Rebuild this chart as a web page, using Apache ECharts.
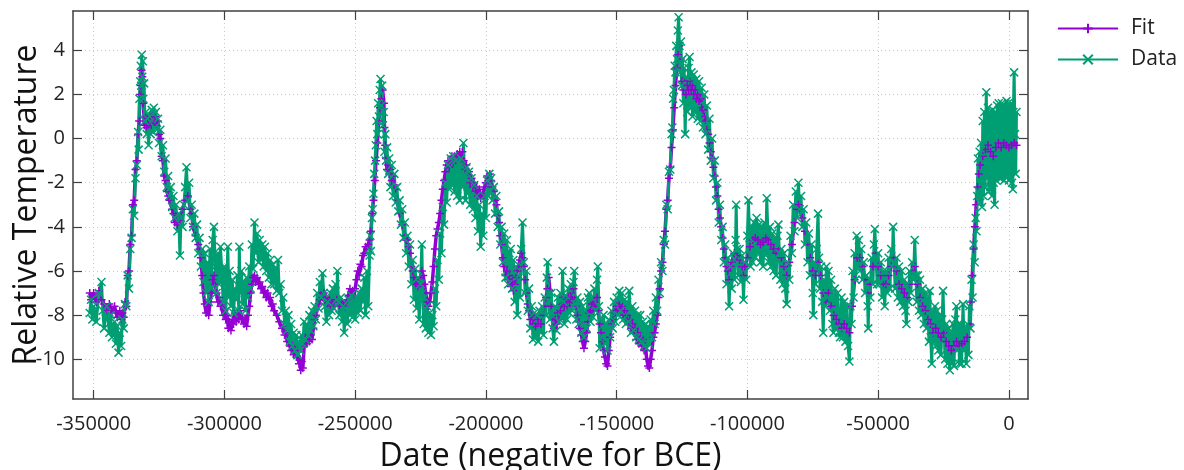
<!DOCTYPE html>
<html>
<head>
<meta charset="utf-8">
<title>Relative Temperature</title>
<script src="https://cdn.jsdelivr.net/npm/echarts@6/dist/echarts.min.js"></script>
<style>
  html, body { margin: 0; padding: 0; background: #fff; }
  #main { width: 1184px; height: 470px; }
</style>
</head>
<body>
<div id="main"></div>
<script>
// tick labels
var xTicks = [-350000, -300000, -250000, -200000, -150000, -100000, -50000, 0];
var yTicks = [-10, -8, -6, -4, -2, 0, 2, 4];
var seriesNames = ['Fit', 'Data'];

// [year, temperature]
var fitPoints = [
  [-351500,-7.0],[-351000,-7.3],[-350000,-7.0],[-349000,-7.4],[-348000,-6.9],[-347000,-7.3],[-346000,-7.5],[-345000,-7.8],
  [-344000,-7.5],[-343000,-7.9],[-342000,-7.6],[-341000,-8.1],[-340000,-7.8],[-339500,-8.2],[-339000,-7.9],[-338500,-8.1],
  [-338000,-7.4],[-337500,-7.6],[-337000,-6.2],[-336500,-6.0],[-336000,-4.8],[-335500,-4.4],[-335000,-3.0],[-334500,-2.8],
  [-334000,-1.4],[-333500,-1.0],[-333000,0.2],[-332600,0.8],[-332300,2.0],[-332000,2.4],[-331700,3.1],[-331400,2.8],
  [-331000,1.6],[-330600,0.6],[-330200,1.0],[-329800,0.5],[-329400,0.9],[-329000,0.6],[-328500,1.0],[-328000,0.6],
  [-327500,1.0],[-327000,0.7],[-326500,1.0],[-326000,0.6],[-325500,0.8],[-325000,0.2],[-324500,0.0],[-324000,-0.8],
  [-323500,-1.0],[-323000,-1.7],[-322500,-1.9],[-322000,-2.4],[-321500,-2.6],[-321000,-2.8],[-320000,-3.2],[-319500,-3.4],
  [-319000,-3.8],[-318500,-3.5],[-318000,-3.9],[-317000,-3.7],[-316000,-3.2],[-315000,-2.8],[-314000,-2.6],[-313000,-3.2],
  [-312500,-3.4],[-312000,-4.0],[-311000,-4.4],[-310000,-4.8],[-309500,-5.0],[-309000,-5.4],[-308500,-6.2],[-308000,-7.0],
  [-307500,-7.5],[-307000,-7.9],[-306500,-7.6],[-306000,-8.0],[-305500,-7.4],[-305000,-7.0],[-304500,-6.4],[-304000,-6.2],
  [-303500,-6.6],[-303000,-7.0],[-302500,-7.4],[-302000,-7.2],[-301500,-7.6],[-301000,-7.5],[-300500,-8.0],[-300000,-7.8],
  [-299500,-8.2],[-299000,-8.0],[-298500,-8.6],[-298000,-8.3],[-297500,-8.7],[-297000,-8.2],[-296500,-8.4],[-296000,-7.9],
  [-295500,-8.3],[-295000,-7.9],[-294500,-8.2],[-294000,-7.8],[-293500,-8.2],[-293000,-8.1],[-292500,-8.4],[-292000,-8.2],
  [-291500,-8.5],[-291000,-8.0],[-290500,-7.6],[-290000,-7.0],[-289500,-6.6],[-289000,-6.3],[-288500,-6.2],[-288000,-6.5],
  [-287500,-6.3],[-287000,-6.6],[-286500,-6.5],[-286000,-6.8],[-285500,-6.7],[-285000,-7.0],[-284500,-6.9],[-284000,-7.2],
  [-283500,-7.0],[-283000,-7.3],[-282500,-7.2],[-282000,-7.6],[-281500,-7.5],[-281000,-7.8],[-280000,-8.0],[-279000,-8.3],
  [-278000,-8.6],[-277500,-8.5],[-277000,-8.9],[-276500,-8.8],[-276000,-9.2],[-275000,-9.4],[-274500,-9.6],[-274000,-9.4],
  [-273500,-9.8],[-273000,-9.5],[-272500,-9.9],[-272000,-9.6],[-271500,-10.2],[-271000,-10.0],[-270800,-10.5],[-270400,-10.1],
  [-270000,-10.4],[-269500,-9.4],[-269000,-9.0],[-268500,-9.3],[-268000,-9.0],[-267500,-9.2],[-267000,-8.9],[-266500,-9.1],
  [-266000,-8.6],[-265500,-8.2],[-265000,-8.0],[-264000,-7.5],[-263500,-7.3],[-263000,-7.0],[-262500,-7.2],[-262000,-7.0],
  [-261500,-7.3],[-261000,-7.2],[-260500,-7.5],[-260000,-7.3],[-259500,-7.6],[-259000,-7.4],[-258000,-7.6],[-257000,-7.3],
  [-256000,-7.6],[-255000,-7.4],[-254000,-7.6],[-253000,-7.3],[-252500,-7.1],[-252000,-6.8],[-251500,-7.0],[-251000,-6.9],
  [-250500,-7.2],[-250000,-6.8],[-249500,-6.4],[-249000,-6.0],[-248500,-6.2],[-248000,-5.7],[-247500,-5.8],[-247000,-5.3],
  [-246500,-5.2],[-246000,-4.9],[-245500,-5.0],[-245000,-4.8],[-244500,-4.6],[-244000,-4.2],[-243500,-3.4],[-243000,-2.8],
  [-242500,-1.9],[-242000,-1.0],[-241500,-0.2],[-241000,0.8],[-240500,1.4],[-240000,1.8],[-239500,2.2],[-239000,1.6],
  [-238800,0.5],[-238500,-0.3],[-238200,-0.9],[-237800,-1.4],[-237400,-1.2],[-237000,-1.6],[-236500,-1.4],[-236000,-1.9],
  [-235500,-1.7],[-235000,-2.1],[-234500,-2.3],[-234000,-2.8],[-233000,-3.4],[-232000,-3.9],[-231000,-4.4],[-230500,-4.6],
  [-230000,-4.6],[-229500,-4.9],[-229000,-5.2],[-228500,-5.8],[-228000,-6.0],[-227500,-6.3],[-227000,-6.6],[-226500,-6.4],
  [-226000,-6.7],[-225000,-6.3],[-224500,-6.0],[-224000,-6.2],[-223500,-6.6],[-223000,-7.0],[-222500,-7.4],[-222000,-7.6],
  [-221500,-7.4],[-221000,-7.0],[-220500,-6.5],[-220000,-5.8],[-219500,-5.0],[-219000,-4.4],[-218500,-4.1],[-218000,-3.8],
  [-217500,-3.4],[-217000,-2.8],[-216500,-2.3],[-216000,-1.9],[-215500,-1.5],[-215000,-1.2],[-214500,-1.0],[-214000,-1.3],
  [-213500,-1.0],[-213000,-0.8],[-212500,-1.1],[-212000,-0.8],[-211500,-1.0],[-211000,-0.7],[-210500,-0.9],[-210000,-0.6],
  [-209500,-0.9],[-209000,-0.6],[-208500,-1.0],[-208000,-1.4],[-207500,-1.2],[-207000,-1.6],[-206500,-1.5],[-206000,-2.0],
  [-205500,-1.8],[-205000,-2.2],[-204500,-2.0],[-204000,-2.4],[-203500,-2.2],[-203000,-2.6],[-202500,-2.3],[-202000,-2.7],
  [-201500,-2.6],[-201000,-2.5],[-200500,-2.2],[-200000,-2.0],[-199500,-1.7],[-199000,-1.9],[-198500,-1.6],[-198000,-1.9],
  [-197500,-2.2],[-197000,-2.4],[-196500,-2.8],[-196000,-3.0],[-195500,-3.5],[-195000,-3.8],[-194500,-4.4],[-194000,-4.8],
  [-193500,-5.4],[-193000,-5.8],[-192500,-6.2],[-192000,-6.0],[-191500,-6.4],[-191000,-6.2],[-190500,-6.7],[-190000,-6.5],
  [-189500,-6.9],[-189000,-6.6],[-188500,-6.3],[-188000,-6.0],[-187500,-5.8],[-187000,-5.5],[-186500,-5.2],[-186000,-5.4],
  [-185500,-5.8],[-185000,-6.4],[-184500,-7.0],[-184000,-7.5],[-183500,-7.8],[-183000,-8.2],[-182500,-8.0],[-182000,-8.4],
  [-181500,-8.1],[-181000,-8.5],[-180000,-8.2],[-179000,-8.4],[-178000,-8.0],[-177500,-7.6],[-177000,-7.2],[-176500,-6.8],
  [-176000,-6.3],[-175500,-6.9],[-175000,-7.6],[-174500,-8.2],[-174000,-8.6],[-173500,-8.2],[-173000,-8.4],[-172500,-7.9],
  [-172000,-8.2],[-171500,-7.8],[-171000,-7.5],[-170500,-7.2],[-170000,-7.6],[-169500,-7.3],[-169000,-7.6],[-168500,-7.2],
  [-168000,-7.4],[-167500,-7.0],[-167000,-7.3],[-166500,-6.8],[-166000,-7.2],[-165500,-7.6],[-165000,-8.0],[-164500,-8.3],
  [-164000,-8.6],[-163500,-8.9],[-163000,-9.2],[-162500,-9.5],[-162000,-9.2],[-161500,-8.8],[-161000,-8.3],[-160500,-7.9],
  [-160000,-7.8],[-159500,-7.5],[-159000,-7.8],[-158500,-7.4],[-158000,-7.6],[-157500,-7.2],[-157000,-7.8],[-156500,-8.4],
  [-156000,-8.8],[-155500,-9.2],[-155000,-9.6],[-154500,-9.9],[-154000,-10.2],[-153500,-10.3],[-153000,-9.6],[-152500,-9.0],
  [-152000,-8.4],[-151500,-8.2],[-151000,-7.8],[-150500,-7.9],[-150000,-7.6],[-149500,-7.7],[-149000,-7.5],[-148500,-7.8],
  [-148000,-7.6],[-147500,-8.0],[-147000,-7.8],[-146500,-8.2],[-146000,-8.0],[-145500,-8.4],[-145000,-8.2],[-144500,-8.6],
  [-144000,-8.4],[-143500,-8.8],[-143000,-8.6],[-142500,-9.1],[-142000,-8.8],[-141500,-9.3],[-141000,-9.0],[-140500,-9.4],
  [-140000,-9.1],[-139500,-9.6],[-139000,-9.4],[-138500,-10.0],[-138000,-10.3],[-137500,-10.4],[-137000,-10.0],[-136500,-9.6],
  [-136000,-9.0],[-135500,-8.8],[-135000,-8.4],[-134500,-8.0],[-134000,-7.2],[-133500,-6.8],[-133000,-6.0],[-132500,-5.6],
  [-132000,-4.8],[-131500,-4.2],[-131000,-3.2],[-130500,-2.8],[-130000,-1.8],[-129500,-1.3],[-129000,-0.4],[-128500,0.4],
  [-128000,1.4],[-127500,2.4],[-127000,3.2],[-126500,3.8],[-126000,4.2],[-125500,3.6],[-125000,2.6],[-124500,2.2],
  [-124000,2.6],[-123500,2.0],[-123000,2.4],[-122500,2.2],[-122000,2.6],[-121500,2.2],[-121000,2.4],[-120500,2.0],
  [-120000,2.2],[-119500,1.8],[-119000,2.0],[-118500,1.7],[-118000,1.8],[-117500,1.4],[-117000,1.3],[-116500,1.0],
  [-116000,0.8],[-115500,0.4],[-115000,0.2],[-114500,-0.2],[-114000,-0.6],[-113500,-0.9],[-113000,-1.3],[-112500,-1.7],
  [-112000,-2.2],[-111500,-2.6],[-111000,-3.2],[-110500,-3.6],[-110000,-4.0],[-109500,-4.5],[-109000,-5.0],[-108500,-5.4],
  [-108000,-5.8],[-107500,-6.0],[-107000,-6.4],[-106500,-5.8],[-106000,-5.6],[-105000,-5.2],[-104000,-5.3],[-103000,-5.5],
  [-102000,-5.8],[-101500,-6.2],[-101000,-5.8],[-100000,-5.4],[-99000,-4.9],[-98000,-4.6],[-97000,-4.5],[-96000,-4.6],
  [-95000,-4.8],[-94000,-4.7],[-93000,-4.5],[-92000,-4.6],[-91000,-4.8],[-90000,-5.0],[-89000,-5.2],[-88000,-5.0],
  [-87000,-5.4],[-86000,-5.8],[-85000,-6.2],[-84000,-5.6],[-83000,-4.8],[-82000,-3.8],[-81000,-3.2],[-80500,-3.0],
  [-80000,-3.2],[-79000,-3.6],[-78000,-4.2],[-77000,-4.8],[-76000,-5.4],[-75000,-6.0],[-74000,-6.2],[-73000,-5.6],
  [-72000,-6.2],[-71000,-7.0],[-70000,-7.4],[-69000,-7.0],[-68000,-7.6],[-67000,-8.0],[-66000,-8.2],[-65000,-8.4],
  [-64000,-8.6],[-63000,-8.4],[-62000,-8.6],[-61000,-8.8],[-60000,-7.6],[-59000,-6.4],[-58000,-5.4],[-57000,-5.4],
  [-56000,-5.8],[-55000,-6.4],[-54000,-7.0],[-53000,-6.6],[-52000,-5.8],[-51000,-5.2],[-50000,-5.8],[-49000,-6.2],
  [-48000,-6.6],[-47000,-6.6],[-46000,-6.2],[-45000,-5.8],[-44000,-5.4],[-43000,-6.0],[-42000,-6.6],[-41000,-6.8],
  [-40000,-7.0],[-39000,-7.2],[-38000,-6.6],[-37000,-6.0],[-36000,-5.8],[-35000,-6.6],[-34000,-7.2],[-33000,-7.6],
  [-32000,-7.8],[-31000,-8.2],[-30000,-8.4],[-29000,-8.8],[-28000,-8.6],[-27000,-8.8],[-26000,-9.0],[-25000,-8.8],
  [-24000,-9.2],[-23000,-9.4],[-22000,-9.6],[-21000,-9.4],[-20000,-9.2],[-19000,-9.4],[-18000,-9.3],[-17000,-9.2],
  [-16000,-9.0],[-15000,-8.4],[-14500,-7.4],[-14000,-6.2],[-13500,-5.0],[-13000,-4.0],[-12500,-3.0],[-12000,-2.2],
  [-11500,-1.6],[-11000,-1.2],[-10000,-0.8],[-9000,-0.5],[-8000,-0.3],[-7000,-0.6],[-6000,-0.8],[-5000,-0.4],
  [-4000,-0.2],[-3000,-0.4],[-2000,-0.2],[-1000,-0.3],[0,-0.4],[1000,-0.3],[2000,-0.2],[2900,-0.3]
];

var dataPoints = [
  [-351500,-7.9],[-351000,-7.3],[-350500,-8.2],[-350000,-7.6],[-349000,-8.3],[-348000,-7.0],[-347000,-6.5],[-346500,-7.8],
  [-346000,-8.6],[-345000,-7.6],[-344000,-8.8],[-343500,-8.0],[-343000,-9.0],[-342000,-8.3],[-341500,-9.3],[-341000,-8.5],
  [-340500,-9.7],[-340000,-8.8],[-339500,-9.4],[-339000,-8.2],[-338500,-8.6],[-338000,-7.5],[-337500,-7.6],[-337000,-6.2],
  [-336500,-6.8],[-336000,-5.0],[-335500,-4.5],[-335000,-3.2],[-334500,-3.5],[-334000,-1.8],[-333500,-1.2],[-333000,0.3],
  [-332800,-0.5],[-332500,1.8],[-332200,2.6],[-332000,3.3],[-331800,2.4],[-331600,3.8],[-331400,2.8],[-331200,3.5],
  [-331000,1.8],[-330700,2.5],[-330400,0.8],[-330000,1.2],[-329700,0.2],[-329400,0.9],[-329000,-0.3],[-328600,1.0],
  [-328200,0.2],[-327800,1.3],[-327400,0.3],[-327000,1.4],[-326600,0.5],[-326200,1.2],[-325800,0.4],[-325400,0.9],
  [-325000,-0.2],[-324500,0.4],[-324000,-0.8],[-323500,-0.3],[-323000,-1.5],[-322500,-0.9],[-322000,-2.2],[-321500,-1.7],
  [-321000,-2.6],[-320500,-2.2],[-320000,-3.1],[-319500,-2.6],[-319000,-3.6],[-318500,-3.0],[-318000,-4.2],[-317500,-3.4],
  [-317000,-5.3],[-316600,-3.6],[-316000,-4.0],[-315500,-3.0],[-315000,-2.2],[-314500,-1.3],[-314000,-2.8],[-313500,-2.0],
  [-313000,-3.6],[-312500,-3.0],[-312000,-4.0],[-311500,-3.4],[-311000,-4.5],[-310500,-3.9],[-310000,-5.2],[-309500,-4.5],
  [-309000,-5.8],[-308500,-5.0],[-308000,-6.5],[-307500,-5.2],[-307000,-7.0],[-306500,-5.6],[-306000,-7.4],[-305500,-5.0],
  [-305000,-6.8],[-304500,-4.6],[-304000,-4.0],[-303500,-5.8],[-303000,-7.0],[-302500,-5.2],[-302000,-6.6],[-301500,-4.9],
  [-301000,-6.0],[-300500,-7.4],[-300000,-5.8],[-299500,-7.8],[-299000,-6.2],[-298700,-4.9],[-298300,-7.2],[-298000,-6.0],
  [-297500,-7.6],[-297000,-6.4],[-296500,-7.9],[-296000,-6.8],[-295500,-7.3],[-295000,-6.2],[-294500,-7.8],[-294300,-4.9],
  [-294000,-7.0],[-293500,-6.0],[-293000,-7.5],[-292500,-6.5],[-292000,-7.8],[-291500,-6.3],[-291000,-7.2],[-290500,-5.8],
  [-290000,-6.8],[-289500,-4.8],[-289000,-5.9],[-288500,-3.8],[-288000,-5.2],[-287500,-4.3],[-287000,-5.6],[-286500,-4.6],
  [-286000,-5.5],[-285500,-4.8],[-285000,-5.8],[-284500,-4.9],[-284000,-6.0],[-283500,-5.2],[-283000,-6.3],[-282500,-5.5],
  [-282000,-6.6],[-281500,-5.7],[-281000,-6.6],[-280500,-5.9],[-280000,-6.9],[-279500,-5.5],[-279000,-7.0],[-278500,-6.6],
  [-278000,-7.8],[-277500,-7.2],[-277000,-8.4],[-276500,-7.8],[-276000,-8.7],[-275500,-8.0],[-275000,-9.2],[-274500,-8.4],
  [-274000,-9.4],[-273500,-8.8],[-273000,-9.6],[-272500,-8.9],[-272000,-9.8],[-271500,-9.2],[-271000,-9.6],[-270500,-8.9],
  [-270000,-9.3],[-269500,-8.3],[-269000,-9.1],[-268500,-8.4],[-268000,-8.9],[-267500,-8.0],[-267000,-8.7],[-266500,-7.8],
  [-266000,-8.5],[-265500,-7.6],[-265000,-8.2],[-264500,-7.0],[-264000,-7.7],[-263500,-6.5],[-263000,-7.2],[-262500,-6.1],
  [-262000,-7.0],[-261500,-7.6],[-261000,-8.3],[-260500,-7.4],[-260000,-8.0],[-259500,-7.0],[-259000,-7.8],[-258500,-6.8],
  [-258000,-7.7],[-257500,-6.6],[-257000,-7.3],[-256800,-6.0],[-256400,-7.4],[-256000,-8.0],[-255500,-7.2],[-255000,-8.3],
  [-254500,-7.6],[-254200,-8.8],[-253800,-7.7],[-253000,-8.4],[-252500,-7.3],[-252000,-8.0],[-251500,-7.1],[-251000,-8.1],
  [-250500,-7.4],[-250000,-8.2],[-249500,-7.2],[-249000,-7.9],[-248500,-7.0],[-248000,-7.8],[-247500,-6.8],[-247000,-7.4],
  [-246500,-6.3],[-246000,-8.0],[-245500,-6.0],[-245000,-7.6],[-244500,-5.3],[-244200,-4.4],[-244000,-5.1],[-243600,-3.6],
  [-243300,-3.2],[-243000,-2.5],[-242700,-1.6],[-242400,-1.0],[-242100,-0.3],[-241800,0.8],[-241500,0.2],[-241200,1.6],
  [-240900,1.0],[-240600,2.2],[-240300,2.7],[-240000,1.5],[-239700,2.4],[-239400,0.6],[-239100,1.2],[-238800,-0.6],
  [-238500,0.2],[-238200,-1.0],[-237800,-0.4],[-237400,-1.6],[-237000,-0.9],[-236500,-2.2],[-236000,-1.2],[-235500,-2.6],
  [-235000,-1.6],[-234500,-2.9],[-234000,-2.2],[-233500,-3.3],[-233000,-2.8],[-232500,-3.9],[-232000,-3.2],[-231500,-4.5],
  [-231000,-3.8],[-230500,-5.2],[-230000,-4.4],[-229500,-5.8],[-229000,-4.8],[-228500,-6.6],[-228000,-5.5],[-227500,-7.3],
  [-227000,-5.9],[-226500,-7.7],[-226000,-6.3],[-225500,-8.2],[-225000,-6.6],[-224500,-4.8],[-224200,-7.0],[-223800,-8.4],
  [-223500,-7.2],[-223000,-8.6],[-222500,-7.6],[-222000,-8.8],[-221500,-7.9],[-221000,-8.9],[-220500,-8.0],[-220000,-8.5],
  [-219500,-6.8],[-219000,-7.6],[-218500,-5.5],[-218000,-6.4],[-217500,-4.3],[-217000,-5.2],[-216500,-3.1],[-216000,-3.9],
  [-215500,-2.0],[-215000,-2.9],[-214500,-1.2],[-214000,-2.3],[-213500,-0.9],[-213000,-2.1],[-212500,-0.8],[-212000,-2.4],
  [-211500,-1.0],[-211000,-2.6],[-210500,-1.1],[-210000,-2.8],[-209500,-0.9],[-209000,-2.2],[-208600,-0.2],[-208200,-1.6],
  [-207800,-2.8],[-207400,-1.3],[-207000,-2.5],[-206500,-1.5],[-206000,-3.0],[-205500,-1.8],[-205000,-3.2],[-204500,-2.1],
  [-204000,-3.6],[-203500,-2.6],[-203000,-4.2],[-202500,-3.0],[-202000,-4.9],[-201500,-3.4],[-201000,-4.4],[-200500,-2.6],
  [-200000,-3.6],[-199500,-1.9],[-199000,-2.6],[-198700,-1.6],[-198300,-2.4],[-198000,-1.8],[-197500,-2.8],[-197000,-2.2],
  [-196500,-3.4],[-196000,-2.6],[-195500,-4.0],[-195000,-3.3],[-194500,-4.8],[-194000,-4.0],[-193500,-5.6],[-193000,-4.3],
  [-192500,-6.3],[-192000,-4.6],[-191500,-6.6],[-191000,-5.2],[-190500,-5.0],[-190000,-6.8],[-189500,-5.5],[-189000,-7.4],
  [-188500,-5.8],[-188000,-8.0],[-187500,-6.2],[-187000,-7.2],[-186500,-5.0],[-186000,-3.8],[-185500,-5.6],[-185000,-7.0],
  [-184500,-6.0],[-184000,-7.8],[-183500,-6.8],[-183000,-8.6],[-182500,-7.6],[-182000,-9.1],[-181500,-7.9],[-181000,-9.0],
  [-180500,-8.0],[-180000,-9.2],[-179500,-7.8],[-179000,-8.8],[-178500,-7.6],[-178000,-8.9],[-177500,-7.2],[-177000,-8.0],
  [-176700,-6.3],[-176400,-5.6],[-176000,-7.0],[-175500,-8.2],[-175000,-7.0],[-174500,-8.6],[-174000,-9.2],[-173500,-7.6],
  [-173000,-8.7],[-172500,-7.2],[-172000,-8.3],[-171500,-7.0],[-171000,-8.1],[-170700,-6.0],[-170300,-7.4],[-170000,-8.4],
  [-169500,-7.1],[-169000,-8.2],[-168500,-6.8],[-168000,-7.9],[-167500,-6.6],[-167000,-7.8],[-166500,-6.5],[-166200,-6.0],
  [-165800,-7.5],[-165400,-8.2],[-165000,-7.2],[-164500,-8.4],[-164000,-7.4],[-163500,-8.8],[-163000,-7.6],[-162500,-9.0],
  [-162000,-7.8],[-161500,-8.6],[-161000,-7.2],[-160500,-7.0],[-160000,-8.3],[-159500,-7.2],[-159000,-8.1],[-158500,-6.8],
  [-158000,-7.8],[-157500,-6.4],[-157200,-5.8],[-156800,-7.6],[-156500,-9.5],[-156000,-8.2],[-155500,-9.0],[-155000,-8.0],
  [-154500,-9.3],[-154000,-8.4],[-153500,-9.6],[-153000,-8.2],[-152500,-9.0],[-152000,-7.8],[-151500,-8.6],[-151000,-7.4],
  [-150500,-8.3],[-150000,-7.2],[-149500,-8.0],[-149000,-6.9],[-148500,-7.8],[-148000,-7.0],[-147500,-8.2],[-147000,-7.3],
  [-146500,-8.4],[-146000,-7.4],[-145500,-8.3],[-145200,-6.9],[-144800,-7.8],[-144500,-8.8],[-144000,-7.6],[-143500,-8.7],
  [-143000,-7.8],[-142500,-9.0],[-142000,-8.0],[-141500,-9.1],[-141000,-8.0],[-140500,-9.2],[-140000,-8.3],[-139500,-9.4],
  [-139000,-8.4],[-138500,-9.5],[-138000,-8.5],[-137500,-9.3],[-137000,-8.2],[-136500,-9.0],[-136000,-7.8],[-135500,-8.4],
  [-135000,-7.2],[-134500,-7.8],[-134000,-6.4],[-133500,-7.0],[-133000,-5.6],[-132500,-6.0],[-132000,-4.6],[-131500,-4.8],
  [-131000,-3.0],[-130500,-3.2],[-130000,-1.5],[-129500,-1.4],[-129000,0.2],[-128700,0.5],[-128400,1.8],[-128100,2.2],
  [-127800,3.3],[-127500,3.0],[-127200,4.2],[-126900,3.6],[-126600,4.9],[-126300,5.5],[-126000,4.2],[-125700,3.0],
  [-125400,4.4],[-125100,2.4],[-124800,3.6],[-124500,1.6],[-124200,3.2],[-123800,0.2],[-123400,2.8],[-123000,1.2],
  [-122500,3.2],[-122100,3.7],[-121800,1.4],[-121400,3.0],[-121000,1.0],[-120500,2.9],[-120000,1.2],[-119500,2.7],
  [-119000,0.9],[-118500,2.6],[-118000,0.8],[-117500,2.3],[-117000,0.5],[-116500,2.0],[-116000,0.2],[-115500,1.5],
  [-115000,-0.5],[-114500,0.9],[-114000,-1.0],[-113500,0.0],[-113000,-1.8],[-112500,-1.0],[-112000,-2.8],[-111500,-2.0],
  [-111000,-3.8],[-110500,-3.0],[-110000,-4.6],[-109500,-4.0],[-109000,-5.6],[-108500,-4.8],[-108000,-6.6],[-107500,-5.4],
  [-107000,-7.6],[-106500,-5.8],[-106000,-6.8],[-105500,-5.2],[-105000,-6.4],[-104500,-4.6],[-104300,-3.0],[-104000,-5.0],
  [-103500,-6.2],[-103000,-5.0],[-102500,-6.5],[-102000,-5.3],[-101500,-7.3],[-101000,-5.6],[-100500,-6.4],[-100000,-4.4],
  [-99600,-2.8],[-99200,-4.5],[-98800,-5.8],[-98400,-4.0],[-98000,-5.6],[-97500,-3.8],[-97000,-5.4],[-96500,-3.6],
  [-96000,-5.2],[-95500,-3.9],[-95000,-5.6],[-94500,-4.0],[-94000,-5.8],[-93500,-3.8],[-93000,-5.3],[-92600,-2.7],
  [-92200,-4.2],[-91800,-5.6],[-91400,-4.0],[-91000,-5.8],[-90500,-4.3],[-90000,-6.0],[-89500,-4.5],[-89000,-6.2],
  [-88500,-4.4],[-88150,-3.9],[-87800,-5.2],[-87400,-6.4],[-87000,-5.0],[-86500,-6.6],[-86000,-5.2],[-85500,-6.8],
  [-85000,-7.5],[-84500,-5.6],[-84000,-6.4],[-83500,-4.4],[-83000,-5.2],[-82500,-3.0],[-82000,-4.2],[-81500,-2.4],
  [-81000,-3.6],[-80500,-2.0],[-80000,-3.2],[-79500,-2.6],[-79000,-4.0],[-78500,-3.2],[-78000,-4.8],[-77500,-3.8],
  [-77000,-5.6],[-76500,-4.3],[-76000,-6.2],[-75500,-4.8],[-75000,-7.0],[-74800,-8.0],[-74400,-5.6],[-74000,-6.6],
  [-73500,-5.0],[-73000,-3.4],[-72600,-5.4],[-72200,-6.8],[-71800,-5.8],[-71400,-7.4],[-71000,-8.8],[-70600,-6.4],
  [-70200,-7.6],[-69800,-5.8],[-69400,-7.2],[-69000,-6.0],[-68500,-7.8],[-68000,-6.4],[-67500,-8.4],[-67100,-8.8],
  [-66600,-6.8],[-66000,-8.6],[-65500,-7.0],[-65000,-8.8],[-64600,-9.0],[-64000,-7.2],[-63500,-9.0],[-63000,-7.4],
  [-62500,-9.2],[-62000,-7.6],[-61500,-9.4],[-61000,-10.1],[-60600,-7.6],[-60200,-8.4],[-59800,-6.0],[-59400,-7.2],
  [-59000,-5.2],[-58600,-6.4],[-58200,-4.4],[-57800,-5.8],[-57400,-4.6],[-57000,-6.0],[-56500,-5.0],[-56000,-6.4],
  [-55500,-5.6],[-55000,-7.0],[-54500,-6.2],[-54000,-7.6],[-53800,-8.6],[-53400,-6.4],[-53000,-7.2],[-52500,-5.4],
  [-52000,-6.6],[-51600,-4.8],[-51260,-4.1],[-50800,-5.4],[-50400,-6.6],[-50000,-5.2],[-49500,-6.6],[-49000,-5.6],
  [-48500,-7.2],[-48000,-6.0],[-47500,-7.6],[-47000,-6.0],[-46500,-7.0],[-46000,-5.4],[-45500,-6.8],[-45000,-5.0],
  [-44600,-5.8],[-44270,-4.0],[-43900,-5.6],[-43500,-6.8],[-43000,-5.4],[-42500,-7.2],[-42000,-5.8],[-41500,-7.4],
  [-41000,-6.0],[-40500,-7.6],[-40000,-6.4],[-39500,-7.8],[-39200,-8.4],[-38800,-6.6],[-38400,-7.4],[-38000,-6.0],
  [-37500,-7.0],[-37000,-5.6],[-36500,-6.4],[-36000,-4.6],[-35600,-6.2],[-35200,-7.4],[-34800,-6.2],[-34400,-7.8],
  [-34000,-6.4],[-33500,-8.0],[-33000,-6.8],[-32500,-8.4],[-32000,-7.0],[-31500,-8.6],[-31000,-7.2],[-30600,-9.2],
  [-30270,-6.9],[-29900,-9.0],[-29500,-10.2],[-29100,-7.8],[-28700,-9.2],[-28300,-7.6],[-27900,-9.4],[-27500,-7.8],
  [-27000,-9.6],[-26500,-8.0],[-26000,-9.8],[-25500,-8.2],[-25190,-6.9],[-24800,-8.6],[-24400,-10.0],[-24000,-8.4],
  [-23500,-10.2],[-23000,-8.6],[-22600,-10.5],[-22200,-8.8],[-21800,-10.2],[-21400,-8.4],[-21000,-10.3],[-20500,-8.2],
  [-20100,-7.6],[-19700,-9.6],[-19300,-8.4],[-18900,-10.2],[-18500,-8.4],[-18100,-10.2],[-17550,-7.5],[-17100,-9.6],
  [-16700,-8.6],[-16300,-10.2],[-15900,-8.4],[-15500,-9.8],[-15100,-7.6],[-14700,-8.6],[-14300,-6.4],[-13900,-7.2],
  [-13500,-4.8],[-13100,-5.6],[-12700,-3.6],[-12400,-4.2],[-12100,-2.6],[-11830,-0.9],[-11500,-2.4],[-11200,-0.6],
  [-10900,-2.9],[-10600,-0.2],[-10300,-3.1],[-10000,0.8],[-9700,-2.6],[-9400,1.2],[-9100,-2.2],[-8650,2.1],
  [-8300,-1.8],[-8000,1.4],[-7700,-2.4],[-7400,1.2],[-7100,-2.2],[-6800,1.0],[-6500,-2.6],[-6200,1.3],
  [-5800,-2.0],[-5470,-3.0],[-5100,1.2],[-4800,-1.9],[-4500,1.5],[-4200,-1.6],[-3900,1.6],[-3600,-1.8],
  [-3300,1.4],[-3000,-1.8],[-2700,1.6],[-2400,-1.6],[-2100,1.5],[-1800,-1.9],[-1500,1.4],[-1200,-1.7],
  [-900,1.7],[-600,-1.6],[-300,1.6],[0,-1.9],[300,1.4],[600,-1.8],[900,1.6],[1200,-2.0],
  [1500,-2.3],[1700,1.2],[2000,3.0],[2300,0.2],[2600,-1.6],[2900,1.2]
];

var FONT = 'Open Sans';
var FIT_COLOR = '#9400d3';
var DATA_COLOR = '#009e73';
var FRAME = '#404040';

function plainNumber(v) { return String(v); }

var frameAxis = { show: true, onZero: false, lineStyle: { color: FRAME, width: 1.5 } };
var tickIn = { inside: true, length: 9, lineStyle: { color: FRAME, width: 1.2 } };
var grid = { type: [1, 3], color: '#c8c8c8', width: 1 };

var option = {
    animation: false,
    backgroundColor: '#fff',
    textStyle: { fontFamily: FONT },
    grid: { left: 73, top: 11, right: 156, bottom: 71, containLabel: false, outerBoundsMode: 'none' },
    legend: {
        data: seriesNames,
        orient: 'vertical',
        left: 1057,
        top: 18,
        padding: 0,
        itemWidth: 60,
        itemHeight: 12,
        itemGap: 10,
        textStyle: { fontFamily: FONT, fontSize: 21, color: '#222', padding: [0, 0, 0, 8] }
    },
    xAxis: [{
        type: 'value',
        position: 'bottom',
        min: -357900,
        max: 7300,
        axisLine: frameAxis,
        axisTick: Object.assign({ customValues: xTicks }, tickIn),
        axisLabel: { customValues: xTicks, formatter: plainNumber, fontFamily: FONT, fontSize: 20, color: '#222', margin: 15 },
        splitLine: { show: true, lineStyle: grid },
        name: 'Date (negative for BCE)',
        nameLocation: 'middle',
        nameGap: 42,
        nameTextStyle: { fontFamily: FONT, fontSize: 32, color: '#111' }
    }, {
        type: 'value',
        position: 'top',
        min: -357900,
        max: 7300,
        axisLine: frameAxis,
        axisTick: Object.assign({ customValues: xTicks }, tickIn),
        axisLabel: { show: false },
        splitLine: { show: false }
    }],
    yAxis: [{
        type: 'value',
        position: 'left',
        min: -11.8,
        max: 5.78,
        axisLine: frameAxis,
        axisTick: Object.assign({ customValues: yTicks }, tickIn),
        axisLabel: { customValues: yTicks, formatter: plainNumber, fontFamily: FONT, fontSize: 20, color: '#222', margin: 8 },
        splitLine: { show: true, lineStyle: grid },
        name: 'Relative Temperature',
        nameLocation: 'middle',
        nameRotate: 90,
        nameGap: 30,
        nameMoveOverlap: false,
        nameTextStyle: { fontFamily: FONT, fontSize: 32, color: '#111' }
    }, {
        type: 'value',
        position: 'right',
        min: -11.8,
        max: 5.78,
        axisLine: frameAxis,
        axisTick: Object.assign({ customValues: yTicks }, tickIn),
        axisLabel: { show: false },
        splitLine: { show: false }
    }],
    series: [{
        name: 'Fit',
        type: 'line',
        data: fitPoints,
        symbol: 'path://M5,0L5,10M0,5L10,5',
        symbolSize: 8,
        color: FIT_COLOR,
        lineStyle: { color: FIT_COLOR, width: 3.5 },
        itemStyle: { color: FIT_COLOR, borderColor: FIT_COLOR, borderWidth: 1.5 }
    }, {
        name: 'Data',
        type: 'line',
        data: dataPoints,
        symbol: 'path://M0,0L10,10M10,0L0,10',
        symbolSize: 8,
        color: DATA_COLOR,
        lineStyle: { color: DATA_COLOR, width: 3 },
        itemStyle: { color: DATA_COLOR, borderColor: DATA_COLOR, borderWidth: 1.5 }
    }]
};

var myChart = echarts.init(document.getElementById('main'));
myChart.setOption(option);
</script>
</body>
</html>
